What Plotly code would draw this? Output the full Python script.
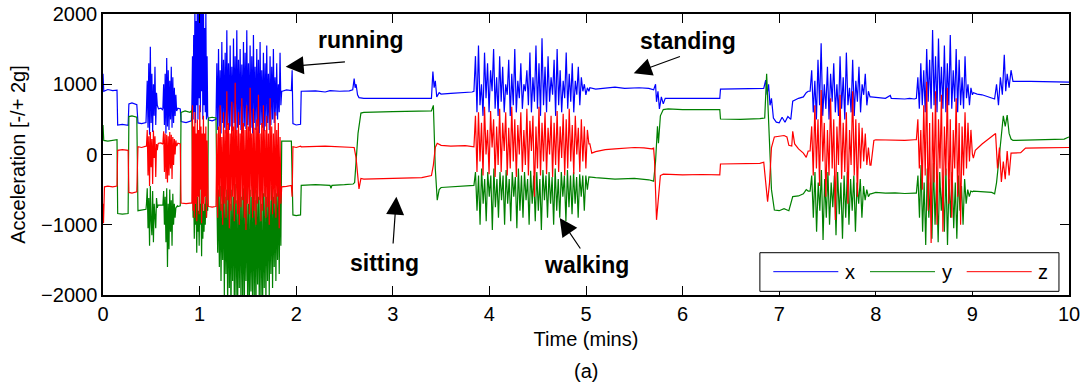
import numpy as np
import plotly.graph_objects as go

# ---------------- data ----------------
# quiet stretches: (time in minutes, acceleration)
X_QUIET = [
    (0.000, 1150), (0.008, 900), (0.05, 925), (0.10, 910), (0.145, 915),
    (0.152, 420), (0.20, 430), (0.26, 415),
    (0.268, 720), (0.30, 735), (0.35, 710),
    (0.362, 450), (0.40, 440), (0.445, 455),
    (0.575, 650), (0.60, 660), (0.615, 640),
    (0.775, 660), (0.80, 650),
    (0.808, 470), (0.86, 455), (0.915, 480),
    (1.095, 490), (1.13, 480), (1.165, 500),
    (1.855, 900), (1.90, 920), (1.95, 910), (1.958, 1200), (1.966, 440), (2.00, 420), (2.045, 430),
    (2.052, 900), (2.20, 905), (2.30, 890), (2.35, 910), (2.45, 900), (2.55, 905), (2.585, 920),
    (2.60, 1080), (2.61, 950), (2.62, 1000), (2.635, 850), (2.65, 810), (2.70, 800), (3.00, 800),
    (3.30, 795), (3.40, 800),
    (3.415, 1180), (3.428, 950), (3.44, 1050), (3.455, 820), (3.48, 880), (3.50, 860), (3.60, 870),
    (3.75, 880), (3.82, 890),
    (5.04, 950), (5.10, 930), (5.20, 940), (5.30, 960), (5.40, 940), (5.55, 950), (5.65, 940), (5.70, 920),
    (5.72, 1000), (5.73, 750), (5.745, 900), (5.76, 650), (5.78, 820), (5.80, 720), (5.82, 800),
    (6.00, 800), (6.20, 805), (6.385, 800), (6.392, 930), (6.60, 935), (6.80, 930), (6.84, 940),
    (6.86, 1060), (6.875, 850), (6.89, 1000), (6.905, 700), (6.92, 800), (6.94, 520), (6.97, 460),
    (7.00, 450), (7.03, 530), (7.06, 460), (7.09, 540), (7.12, 500),
    (7.14, 760), (7.20, 800), (7.25, 820), (7.28, 880), (7.30, 900),
    (7.95, 820), (8.00, 810), (8.10, 800), (8.15, 840), (8.16, 800), (8.30, 790), (8.35, 800), (8.40, 790),
    (9.01, 880), (9.05, 860), (9.10, 850), (9.15, 830), (9.20, 810), (9.23, 790),
    (9.25, 1000), (9.27, 700), (9.29, 1100), (9.31, 850), (9.33, 1420), (9.345, 900), (9.36, 1150),
    (9.38, 950), (9.40, 1200), (9.42, 1040),
    (9.60, 1040), (9.80, 1035), (10.0, 1030),
]

Y_QUIET = [
    (0.000, 420), (0.008, 200), (0.05, 190), (0.10, 200), (0.145, 210),
    (0.152, -840), (0.20, -850), (0.26, -840),
    (0.268, 540), (0.30, 550), (0.35, 530),
    (0.362, -800), (0.40, -790), (0.445, -780),
    (0.575, -720), (0.60, -730), (0.615, -720),
    (0.775, -740), (0.80, -730),
    (0.808, 600), (0.85, 620), (0.90, 600), (0.915, 620),
    (1.095, 520), (1.13, 530), (1.165, 520),
    (1.855, 190), (1.90, 195), (1.95, 190), (1.966, -860), (2.00, -870), (2.045, -860),
    (2.052, -440), (2.20, -430), (2.35, -440), (2.36, -480), (2.37, -440), (2.50, -430), (2.59, -420),
    (2.605, -400), (2.64, 300), (2.67, 590), (2.70, 600), (3.00, 610), (3.30, 615), (3.40, 620),
    (3.42, 700), (3.44, -200), (3.46, -650), (3.48, -500), (3.50, -470), (3.60, -460), (3.75, -450),
    (3.82, -440),
    (5.04, -320), (5.10, -330), (5.30, -350), (5.50, -340), (5.65, -360), (5.70, -380),
    (5.72, -100), (5.74, 400), (5.75, 160), (5.77, 550), (5.80, 640), (5.85, 650),
    (6.00, 640), (6.20, 645), (6.385, 640), (6.392, 505), (6.60, 500), (6.80, 510), (6.85, 520),
    (6.87, 1150), (6.885, 600), (6.90, 300), (6.92, -500), (6.95, -790), (7.00, -800), (7.05, -770),
    (7.10, -800), (7.14, -600), (7.20, -590), (7.25, -560), (7.28, -500), (7.30, -520),
    (7.95, -560), (8.00, -540), (8.10, -550), (8.20, -545), (8.30, -555), (8.40, -550),
    (9.01, -520), (9.10, -530), (9.20, -540), (9.23, -560),
    (9.25, -400), (9.28, 0), (9.30, 300), (9.32, 550), (9.34, 400), (9.36, 560), (9.38, 300),
    (9.40, 220), (9.42, 200), (9.60, 205), (9.80, 210), (9.95, 220), (10.0, 250),
]

Z_QUIET = [
    (0.000, -700), (0.005, -980), (0.015, -460), (0.05, -450), (0.10, -460), (0.145, -450),
    (0.152, 60), (0.20, 70), (0.26, 60),
    (0.268, -540), (0.30, -550), (0.35, -530),
    (0.362, 110), (0.40, 100), (0.445, 120),
    (0.575, 160), (0.60, 165), (0.615, 150),
    (0.775, 160), (0.80, 150),
    (0.808, -690), (0.86, -700), (0.915, -690),
    (1.095, -740), (1.13, -750), (1.165, -740),
    (1.855, -460), (1.90, -455), (1.95, -440), (1.958, -600), (1.966, 110), (2.00, 100), (2.045, 120),
    (2.052, 110), (2.30, 120), (2.50, 110), (2.59, 100),
    (2.60, 100), (2.62, -50), (2.64, -380), (2.65, -490), (2.67, -340), (2.70, -350), (3.00, -340),
    (3.30, -330), (3.40, -300),
    (3.42, -150), (3.44, 100), (3.46, 160), (3.50, 130), (3.60, 120), (3.75, 125), (3.82, 110),
    (5.04, 150), (5.06, 20), (5.10, 40), (5.20, 70), (5.30, 80), (5.50, 100), (5.60, 95), (5.68, 80),
    (5.70, 90), (5.71, -100), (5.73, -930), (5.75, -600), (5.77, -300), (5.80, -280),
    (6.00, -290), (6.20, -285), (6.385, -290), (6.392, -135), (6.60, -130), (6.80, -125), (6.84, -110),
    (6.86, -350), (6.88, -672), (6.90, -400), (6.92, 100), (6.95, 250), (7.00, 260), (7.05, 270),
    (7.08, 250), (7.10, 130), (7.13, 120), (7.14, 330), (7.16, 150), (7.20, 80), (7.25, 20),
    (7.28, -40), (7.30, 50),
    (7.95, -150), (7.98, 200), (8.00, 210), (8.10, 205), (8.20, 210), (8.30, 200), (8.40, 210),
    (9.01, -50), (9.03, 60), (9.10, 150), (9.20, 250), (9.24, 300),
    (9.26, -200), (9.28, 100), (9.30, -390), (9.32, -100), (9.34, -350), (9.36, 50), (9.38, -300),
    (9.40, 20), (9.50, 25), (9.55, 90), (9.70, 95), (9.90, 100), (10.0, 100),
]

# activity bursts: time spans (minutes); samples are spread evenly over each span
BURST_SPANS = [(0.45, 0.57), (0.62, 0.77), (0.92, 1.09), (1.17, 1.85),
               (3.84, 5.03), (7.32, 7.94), (8.42, 9.00)]

X_BURSTS = [
    [650, 1050, 380, 1300, 280, 1535, 450, 1150, 320, 1000, 550, 1250, 420, 880, 700, 660],
    [660, 1000, 420, 1150, 300, 1374, 400, 1200, 350, 1050, 500, 1250, 380, 1100, 450, 950, 550, 850, 620, 650],
    [700, 1400, 500, 1700, 600, 2100, 450, 1900, 700, 2300, 500, 2200, 800, 2400, 600, 2100, 900, 2300,
     500, 2200, 700, 1800, 600, 2050, 500, 1400, 550, 500],
    [500, 1300, 350, 1500, 400, 1200, 300, 1600, 450, 1350, 380, 1450, 300, 1770, 420, 1300, 350, 1550,
     400, 1250, 330, 1650, 450, 1400, 300, 1770, 380, 1350, 420, 1500, 350, 1280, 300, 1600, 400, 1450,
     360, 1770, 420, 1300, 330, 1550, 380, 1400, 300, 1700, 450, 1250, 350, 1500, 400, 1350, 300, 1600,
     420, 1200, 380, 1450, 330, 1300, 400, 1550, 450, 1150, 350, 1400, 420, 1250, 500, 1500, 450, 1100,
     550, 1300, 500, 1000, 600, 1450, 700, 900],
    [900, 1400, 600, 1550, 700, 1000, 550, 1450, 800, 1300, 600, 1200, 900, 1500, 650, 1100, 550, 1400,
     750, 1250, 600, 1000, 850, 1350, 550, 1150, 700, 1500, 600, 1050, 800, 1300, 650, 1000, 900, 1200,
     700, 1450, 600, 1100, 750, 1550, 650, 1300, 550, 1654, 700, 1250, 600, 1400, 750, 1100, 850, 1350,
     550, 1500, 700, 1200, 600, 1050, 800, 1450, 650, 1150, 750, 1300, 600, 1050, 850, 1250, 700, 1100,
     900, 1000, 850, 950, 900],
    [900, 1200, 600, 1050, 500, 1350, 700, 1583, 550, 1000, 650, 1250, 500, 1150, 750, 1300, 600, 1000,
     550, 1400, 650, 1100, 500, 1450, 700, 950, 600, 1350, 550, 1050, 750, 1250, 600, 1000, 850, 1150,
     700, 900, 820],
    [800, 1100, 650, 1300, 700, 1200, 600, 1500, 750, 1350, 650, 1772, 700, 1400, 600, 1650, 750, 1250,
     650, 1550, 600, 1300, 700, 1700, 650, 1200, 750, 1500, 600, 1350, 700, 1100, 650, 1400, 800, 1000,
     700, 950, 850],
]

Y_BURSTS = [
    [-700, -480, -1050, -620, -1300, -450, -950, -1150, -520, -1250, -700, -850, -1050, -620, -760, -720],
    [-720, -520, -1000, -600, -1250, -480, -1600, -700, -1350, -500, -1100, -650, -1300, -560, -1000,
     -700, -900, -760, -740, -730],
    [600, -500, -900, -600, -1200, -500, -1000, -700, -1400, -600, -1100, -800, -1300, -500, -1000, -700,
     -1450, -600, -1200, -800, -1100, -700, -1000, -600, -900, -700, -800, 500],
    [520, -600, -1400, -500, -1600, -450, -1800, -700, -1500, -400, -2000, -600, -1700, -500, -2200, -450,
     -1900, -700, -2300, -500, -1800, -600, -2100, -420, -2000, -650, -2300, -500, -1900, -400, -2200,
     -600, -2000, -480, -2300, -550, -1800, -450, -2100, -700, -2300, -500, -1950, -600, -2200, -420,
     -2000, -650, -2300, -500, -1850, -600, -2150, -450, -2000, -700, -2300, -550, -1900, -480, -2100,
     -600, -1800, -500, -2000, -650, -1700, -450, -1900, -600, -1600, -500, -1800, -550, -1500, -450,
     -1700, -400, -1300, 190],
    [-440, -250, -800, -300, -1000, -200, -700, -350, -950, -250, -600, -300, -1075, -200, -750, -350,
     -900, -250, -650, -300, -1000, -220, -700, -350, -950, -250, -600, -320, -1050, -200, -800, -300,
     -900, -250, -650, -350, -1000, -230, -700, -300, -950, -250, -800, -350, -1075, -220, -650, -300,
     -900, -250, -700, -320, -1000, -200, -800, -350, -900, -250, -600, -300, -950, -220, -750, -300,
     -850, -250, -700, -320, -900, -280, -600, -300, -800, -300, -500, -320],
    [-520, -300, -900, -250, -1100, -400, -800, -220, -1217, -350, -900, -250, -1000, -400, -750, -300,
     -1150, -250, -850, -400, -1200, -300, -900, -250, -1000, -350, -800, -300, -1100, -400, -700, -350,
     -900, -450, -650, -500, -600, -560],
    [-550, -300, -900, -150, -1100, -400, -1288, -200, -900, -400, -1200, -123, -1000, -350, -1250, -250,
     -800, -400, -1100, -200, -1288, -350, -900, -250, -1050, -400, -1200, -300, -800, -450, -1000, -350,
     -700, -500, -600, -520, -530],
]

Z_BURSTS = [
    [120, 350, -300, 260, -450, 320, -180, 220, -420, 340, -50, 260, -320, 150, 60, 150],
    [160, 330, -250, 300, -350, 280, -400, 260, -300, 320, -200, 280, -350, 250, -150, 220, 0, 200, 120, 160],
    [-690, 700, -800, 400, -900, 600, -700, 300, -950, 500, -600, 350, -850, 700, -500, 400, -980, 300,
     -700, 550, -800, 300, -600, 400, -900, 200, -700, -740],
    [-740, 300, -900, 400, -600, 700, -800, 250, -1000, 600, -700, 350, -900, 900, -650, 450, -1050, 300,
     -800, 750, -600, 400, -950, 1020, -700, 350, -850, 600, -1000, 300, -750, 800, -650, 450, -900, 350,
     -1075, 700, -700, 400, -850, 950, -600, 300, -900, 650, -800, 380, -1000, 500, -700, 850, -650, 300,
     -950, 450, -800, 700, -600, 350, -900, 550, -750, 300, -1000, 800, -650, 400, -850, 300, -700, 600,
     -900, 350, -600, 450, -1050, 250, -700, -460],
    [110, 550, -250, 600, -100, 450, -300, 680, 0, 350, -280, 620, 100, 500, -320, 400, -150, 650, -250,
     450, 50, 600, -300, 380, -200, 680, -100, 500, -320, 420, 0, 600, -250, 350, -150, 650, -300, 480,
     50, 550, -600, 400, -200, 680, -300, 450, -100, 600, -280, 380, 0, 550, -320, 450, -150, 620, -250,
     400, -50, 580, -300, 500, -200, 650, -100, 420, -280, 550, 0, 380, -250, 500, -100, 400, -200, 350, 150],
    [50, 400, -300, 700, -200, 500, -450, 918, -100, 450, -600, 350, -300, 800, -200, 500, -932, 400,
     -150, 850, -350, 450, -250, 600, -700, 350, -150, 900, -300, 500, -600, 450, -200, 380, -100, 300,
     -150, 100, -150],
    [210, 500, -200, 350, -500, 700, -300, 1036, -800, 450, -1260, 600, -400, 900, -1000, 500, -200, 850,
     -1100, 400, -300, 950, -700, 500, -900, 350, -200, 800, -600, 450, -1000, 400, -300, 600, -200, 450,
     -100, 350, 0],
]

SERIES_NAMES = ["x", "y", "z"]
SERIES_COLORS = ["#0000ff", "#008000", "#ff0000"]


def build(quiet, bursts):
    pts = list(quiet)
    for (t0, t1), vals in zip(BURST_SPANS, bursts):
        ts = np.linspace(t0, t1, len(vals))
        pts += list(zip(ts.tolist(), vals))
    pts.sort(key=lambda p: p[0])
    t, v = zip(*pts)
    return list(t), list(v)


FONT = "Arial, 'Liberation Sans', Helvetica, sans-serif"

fig = go.Figure()
for name, color, quiet, bursts in zip(SERIES_NAMES, SERIES_COLORS,
                                       [X_QUIET, Y_QUIET, Z_QUIET],
                                       [X_BURSTS, Y_BURSTS, Z_BURSTS]):
    t, v = build(quiet, bursts)
    fig.add_trace(go.Scatter(x=t, y=v, mode="lines", name=name,
                             line=dict(color=color, width=1.2), showlegend=False))

axis_common = dict(showline=True, linecolor="black", linewidth=1.5, mirror="allticks",
                   ticks="inside", ticklen=9, tickcolor="black", tickwidth=1,
                   showgrid=False, zeroline=False, automargin=False, ticklabeloverflow="allow",
                   tickfont=dict(family=FONT, size=20, color="black"))

fig.update_xaxes(range=[0, 10], tickvals=list(range(0, 11)),
                 title=dict(text="Time (mins)", font=dict(family=FONT, size=20, color="black"), standoff=8),
                 **axis_common)
fig.update_yaxes(range=[-2000, 2000], tickvals=[-2000, -1000, 0, 1000, 2000],
                 title=dict(text="Acceleration [-/+ 2g]", font=dict(family=FONT, size=20, color="black"),
                            standoff=10),
                 **axis_common)

annotations = []
# arrows (tip, tail) in data coordinates
arrows = [((1.891, 1250), (2.52, 1321)),
          ((5.494, 1156), (5.988, 1402)),
          ((3.037, -601), (3.002, -1288)),
          ((4.728, -904), (4.952, -1359))]
for (tx, ty), (sx, sy) in arrows:
    annotations.append(dict(x=tx, y=ty, xref="x", yref="y", ax=sx, ay=sy, axref="x", ayref="y",
                            text="", showarrow=True, arrowhead=2, arrowsize=3.0, arrowwidth=1.2,
                            arrowcolor="black"))
labels = [("running", 2.667, 1630), ("standing", 6.053, 1616),
          ("sitting", 2.916, -1544), ("walking", 5.004, -1573)]
for txt, lx, ly in labels:
    annotations.append(dict(x=lx, y=ly, xref="x", yref="y", text=f"<b>{txt}</b>", showarrow=False,
                            font=dict(family=FONT, size=23, color="black")))
annotations.append(dict(x=0.5, y=-0.27, xref="paper", yref="paper", yanchor="middle",
                        text="(a)", showarrow=False, font=dict(family=FONT, size=20, color="black")))

# legend drawn as a box with sample lines
shapes = [dict(type="rect", xref="paper", yref="paper", x0=0.680, x1=0.9896, y0=0.013, y1=0.1505,
               line=dict(color="black", width=1), fillcolor="white", layer="above")]
leg = [(0.6939, 0.7612, 0.7733), (0.7940, 0.8613, 0.8733), (0.8941, 0.9614, 0.9734)]
for (x0, x1, xt), name, color in zip(leg, SERIES_NAMES, SERIES_COLORS):
    shapes.append(dict(type="line", xref="paper", yref="paper", x0=x0, x1=x1, y0=0.083, y1=0.083,
                       line=dict(color=color, width=1), layer="above"))
    annotations.append(dict(x=xt, y=0.083, xref="paper", yref="paper", text=name, showarrow=False,
                            xanchor="center", yanchor="middle",
                            font=dict(family=FONT, size=20, color="black")))

fig.update_layout(width=1088, height=387, margin=dict(l=103, r=19, t=14, b=92),
                  plot_bgcolor="white", paper_bgcolor="white",
                  annotations=annotations, shapes=shapes, showlegend=False)

# remove the browser's default 8 px body margin so the figure sits at the page corner
fig.write_html("out.html", config={"displayModeBar": False},
               post_script="document.body.style.margin='0px';")
